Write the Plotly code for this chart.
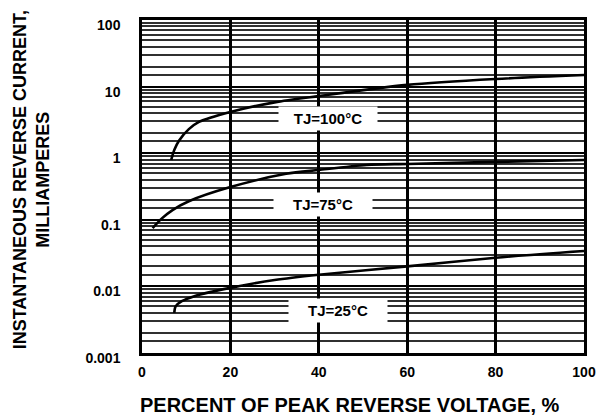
import math
import plotly.graph_objects as go

# ---- data ----
pct_100 = [6.6, 7.3, 8.4, 10.6, 12.9, 20, 30, 40, 60, 80, 100]
cur_100 = [0.79, 1.12, 1.55, 2.3, 2.95, 4.16, 5.8, 7.2, 10.6, 13.0, 14.9]

pct_75 = [2.4, 4.5, 6.9, 10.6, 20, 32.6, 40, 50.8, 60, 80, 100]
cur_75 = [0.075, 0.105, 0.14, 0.19, 0.31, 0.49, 0.56, 0.665, 0.69, 0.74, 0.79]

pct_25 = [7.3, 7.6, 9.0, 12.0, 20, 30, 40, 60, 80, 100]
cur_25 = [0.0040, 0.0050, 0.0060, 0.0072, 0.0095, 0.0125, 0.0150, 0.0200, 0.027, 0.034]

x_ticks = [0, 20, 40, 60, 80, 100]
x_ticktext = ["0", "20", "40", "60", "80", "100"]
y_ticks = [0.001, 0.01, 0.1, 1, 10, 100]
y_ticktext = ["0.001", "0.01", "0.1", "1", "10", "100"]
minor_mult = [1.5, 2, 3, 4, 5, 6, 7, 8, 9]

labels = ["TJ=100°C", "TJ=75°C", "TJ=25°C"]
label_x = [42, 41, 44.3]
label_y = [3.27, 0.167, 0.00428]

x_title = "PERCENT OF PEAK REVERSE VOLTAGE, %"
y_title = "INSTANTANEOUS REVERSE CURRENT,<br>MILLIAMPERES"

# ---- figure ----
FONT = "Liberation Sans, Arial, sans-serif"
fig = go.Figure()
for xs, ys in [(pct_100, cur_100), (pct_75, cur_75), (pct_25, cur_25)]:
    fig.add_trace(go.Scatter(x=xs, y=ys, mode="lines",
                             line=dict(color="black", width=2.6, shape="spline", smoothing=0.8),
                             showlegend=False, hoverinfo="skip"))

minor_vals = [d * m for d in y_ticks[:-1] for m in minor_mult]

for t, xv, yv in zip(labels, label_x, label_y):
    fig.add_annotation(x=xv, y=math.log10(yv), xref="x", yref="y", text=t,
                       showarrow=False, bgcolor="white", width=96, height=21,
                       font=dict(family=FONT, size=15, color="black", weight="bold"))

fig.add_annotation(x=0.47, y=-0.156, xref="paper", yref="paper", text=x_title,
                   showarrow=False, xanchor="center", yanchor="middle",
                   font=dict(family=FONT, size=20, color="black", weight="bold"))
fig.add_annotation(x=-0.25, y=0.52, xref="paper", yref="paper", text=y_title,
                   showarrow=False, xanchor="center", yanchor="middle", textangle=-90,
                   font=dict(family=FONT, size=18, color="black", weight="bold"))

fig.update_layout(
    width=608, height=417,
    margin=dict(l=142, r=15, t=20, b=64),
    paper_bgcolor="white", plot_bgcolor="white",
    xaxis=dict(range=[0, 100], tickvals=x_ticks, ticktext=x_ticktext,
               showgrid=True, gridcolor="black", gridwidth=2.5,
               showline=True, linecolor="black", linewidth=2.5, mirror=True,
               ticks="", zeroline=False, ticklabelstandoff=4,
               tickfont=dict(family=FONT, size=14, color="black", weight="bold")),
    yaxis=dict(type="log", range=[-3, 2], tickvals=y_ticks, ticktext=y_ticktext,
               showgrid=True, gridcolor="black", gridwidth=2,
               minor=dict(tickmode="array", tickvals=minor_vals, showgrid=True,
                          gridcolor="#303030", gridwidth=1.6, ticks=""),
               showline=True, linecolor="black", linewidth=2.5, mirror=True,
               ticks="", zeroline=False, ticklabelstandoff=16, ticklabelshift=5,
               tickfont=dict(family=FONT, size=14, color="black", weight="bold")),
)

fig.write_html("out.html", config={"displayModeBar": False},
               post_script="document.body.style.margin='0';")
